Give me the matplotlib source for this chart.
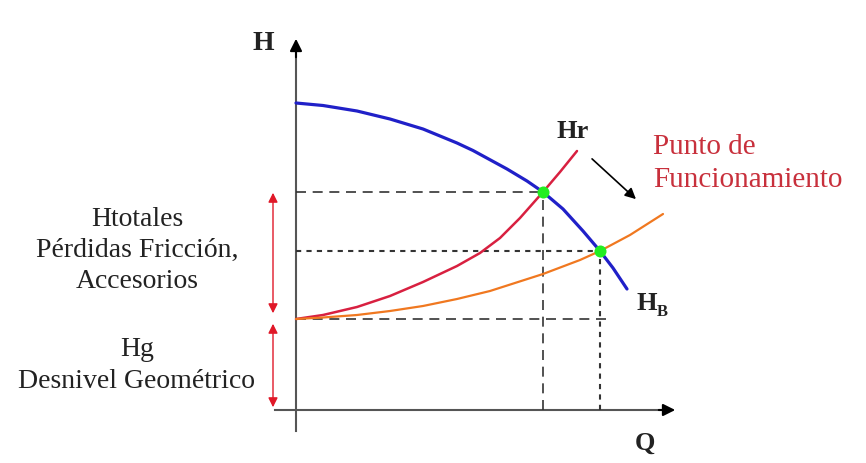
import matplotlib
matplotlib.use("Agg")
import matplotlib.pyplot as plt

plt.rcParams['font.family'] = ['Liberation Serif', 'DejaVu Serif']

# Data (Q, H units; origin at axes crossing)
q_pump = [0, 27, 61, 94, 127, 161, 177, 211, 231, 247, 267, 287, 304, 317, 331]
h_pump = [307, 304.5, 299, 291, 281, 267, 259.5, 241, 229, 218, 201, 179, 159, 142, 121]
q_sys1 = [0, 27, 61, 94, 127, 161, 184, 204, 224, 247, 264, 281]
h_sys1 = [91, 95, 103, 114, 128, 144, 157, 172, 192, 218, 238, 259]
q_sys2 = [0, 27, 61, 94, 127, 161, 194, 247, 284, 304, 334, 367]
h_sys2 = [91, 92.5, 95, 99, 104, 111, 119, 136, 150, 159, 175, 196]
op_q = [247, 304]
op_h = [218, 159]
h_geo = 91

fig = plt.figure(figsize=(8.66, 4.64), dpi=100)
ax = fig.add_axes([0, 0, 1, 1])
ax.set_xlim(-296, 570)
ax.set_ylim(-53, 411)
ax.axis('off')

axis_col = '#555555'
# axes
ax.plot([0, 0], [-21, 360], color=axis_col, lw=1.5)
ax.annotate('', xy=(0, 374), xytext=(0, 350),
            arrowprops=dict(arrowstyle='-|>', color='black', lw=1.5, mutation_scale=18))
ax.plot([-21, 370], [0, 0], color=axis_col, lw=1.5)
ax.annotate('', xy=(382, 0), xytext=(360, 0),
            arrowprops=dict(arrowstyle='-|>', color='black', lw=1.5, mutation_scale=18))

# guide lines
dcol = '#333333'
ax.plot([0, op_q[0]], [op_h[0], op_h[0]], color=dcol, lw=1.2, dashes=(6, 4))
ax.plot([op_q[0], op_q[0]], [0, op_h[0]], color=dcol, lw=1.2, dashes=(6, 4))
ax.plot([0, op_q[1]], [op_h[1], op_h[1]], color=dcol, lw=1.5, dashes=(2.5, 2.5))
ax.plot([op_q[1], op_q[1]], [0, op_h[1]], color=dcol, lw=1.5, dashes=(2.5, 2.5))
ax.plot([0, 312], [h_geo, h_geo], color=dcol, lw=1.2, dashes=(6, 4))

# curves
kw = dict(solid_joinstyle='round', solid_capstyle='round')
ax.plot(q_pump, h_pump, color='#2020c8', lw=2.3, **kw)
ax.plot(q_sys1, h_sys1, color='#d82040', lw=1.8, **kw)
ax.plot(q_sys2, h_sys2, color='#f07820', lw=1.6, **kw)
ax.scatter(op_q, op_h, s=75, color='#22ee22', zorder=5, linewidths=0)

# red double arrows
rcol = '#e01828'
ax.annotate('', xy=(-23, op_h[0] + 2), xytext=(-23, h_geo + 3),
            arrowprops=dict(arrowstyle='<|-|>', color=rcol, lw=1.0, mutation_scale=14))
ax.annotate('', xy=(-23, h_geo - 2), xytext=(-23, 0),
            arrowprops=dict(arrowstyle='<|-|>', color=rcol, lw=1.0, mutation_scale=14))

# black pointer arrow
ax.annotate('', xy=(342, 209), xytext=(294, 253),
            arrowprops=dict(arrowstyle='-|>', color='black', lw=1.2, mutation_scale=16))

tcol = '#222222'
ax.text(-33, 368, 'H', fontsize=20, fontweight='bold', ha='center', va='center', color=tcol)
ax.text(349, -32, 'Q', fontsize=19, fontweight='bold', ha='center', va='center', color=tcol)
ax.text(277, 280, 'Hr', fontsize=19, fontweight='bold', ha='center', va='center', color=tcol)
ax.text(351, 108, 'H', fontsize=19, fontweight='bold', ha='center', va='center', color=tcol)
ax.text(366, 99, 'B', fontsize=12, fontweight='bold', ha='center', va='center', color=tcol)

ax.text(357, 264, 'Punto de', fontsize=21, ha='left', va='center', color='#c8303c')
ax.text(357, 231, 'Funcionamiento', fontsize=21, ha='left', va='center', color='#c8303c')

for yy, s in [(191, 'Htotales'), (161, 'Pérdidas Fricción,'), (129, 'Accesorios'),
              (61, 'Hg'), (29, 'Desnivel Geométrico')]:
    ax.text(-159, yy, s, fontsize=20, ha='center', va='center', color=tcol)

fig.savefig('out.png', dpi=100)
